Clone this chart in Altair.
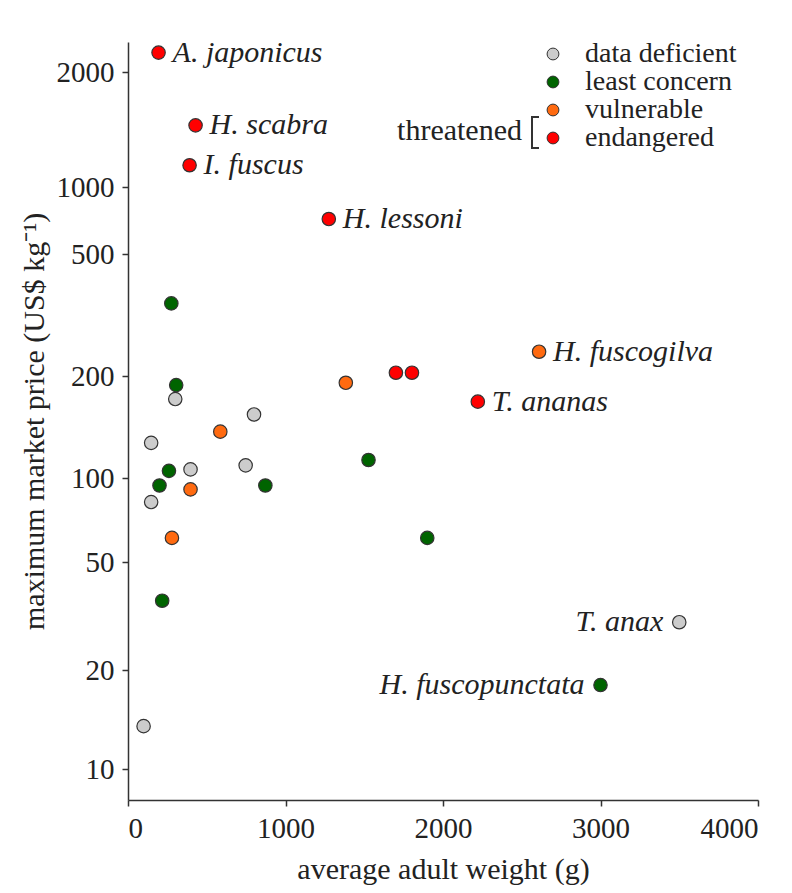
import altair as alt
import pandas as pd

# ---- data ----
weight = [194, 429, 391, 1275, 1701, 1803, 2221,            # endangered
          2610, 1383, 586, 397, 279,                        # vulnerable
          275, 306, 260, 200, 872, 1527, 1900, 217, 3000,   # least concern
          300, 800, 147, 397, 747, 147, 99, 3500]           # data deficient
price = [2250, 1450, 1140, 718, 205, 205, 168,
         240, 191, 137, 91, 61,
         345, 188, 105, 94, 94, 113, 61, 36, 18,
         171, 154, 127, 106, 109, 82, 13.5, 30]
status = (["endangered"] * 7 + ["vulnerable"] * 5 +
          ["least concern"] * 9 + ["data deficient"] * 8)
species = ["A. japonicus", "H. scabra", "I. fuscus", "H. lessoni", "", "", "T. ananas",
           "H. fuscogilva", "", "", "", "",
           "", "", "", "", "", "", "", "", "H. fuscopunctata",
           "", "", "", "", "", "", "", "T. anax"]

status_order = ["data deficient", "least concern", "vulnerable", "endangered"]
status_colors = ["#cccccc", "#006400", "#ff6a10", "#ff0000"]
x_ticks = [0, 1000, 2000, 3000, 4000]
y_ticks = [10, 20, 50, 100, 200, 500, 1000, 2000]

df = pd.DataFrame({"weight": weight, "price": price,
                   "status": status, "species": species})

FONT = "Liberation Serif"
W, H = 630, 758

x_enc = alt.X("weight:Q",
              scale=alt.Scale(domain=[0, 4000], nice=False),
              axis=alt.Axis(values=x_ticks, format="d",
                            title="average adult weight (g)",
                            labelPadding=8, titleY=78,
                            titleBaseline="alphabetic"))
y_enc = alt.Y("price:Q",
              scale=alt.Scale(type="log", nice=False,
                              domain=[8, 10, 20, 50, 100, 200, 500, 1000, 2000, 2400],
                              range=[758, 727, 628, 520, 436, 334, 212, 145, 30, 0]),
              axis=alt.Axis(values=y_ticks, format="d",
                            title="maximum market price (US$ kg\u207b\u00b9)",
                            labelPadding=8, titleX=-94, titleY=379,
                            titleAngle=270, titleAlign="center",
                            titleBaseline="middle"))

base = alt.Chart(df)

points = base.mark_point(filled=True, size=180, opacity=1,
                         stroke="#333333", strokeWidth=1.2).encode(
    x=x_enc, y=y_enc,
    color=alt.Color("status:N",
                    scale=alt.Scale(domain=status_order, range=status_colors),
                    title=None,
                    legend=alt.Legend(orient="none", legendX=411, legendY=-2,
                                      labelFont=FONT, labelFontSize=28,
                                      labelColor="#222222", labelOffset=18,
                                      symbolType="circle", symbolSize=140,
                                      symbolStrokeColor="#333333",
                                      symbolStrokeWidth=1, rowPadding=0,
                                      padding=0)),
)

labels_right = base.mark_text(align="left", baseline="middle", dx=14,
                              font=FONT, fontSize=30, fontStyle="italic",
                              color="#222222").encode(
    x="weight:Q", y="price:Q", text="species:N"
).transform_filter("datum.species != '' && datum.weight < 2900")

labels_left = base.mark_text(align="right", baseline="middle", dx=-16,
                             font=FONT, fontSize=30, fontStyle="italic",
                             color="#222222").encode(
    x="weight:Q", y="price:Q", text="species:N"
).transform_filter("datum.species != '' && datum.weight >= 2900")

ann = alt.Chart(alt.Data(values=[{"t": "threatened"}]))
threat_text = ann.mark_text(align="right", baseline="middle", font=FONT,
                            fontSize=30, color="#222222").encode(
    x=alt.value(394), y=alt.value(89), text="t:N")
br_v = ann.mark_rule(color="#333333", strokeWidth=2).encode(
    x=alt.value(404), y=alt.value(75), y2=alt.value(106))
br_t = ann.mark_rule(color="#333333", strokeWidth=2).encode(
    x=alt.value(403), x2=alt.value(411), y=alt.value(75))
br_b = ann.mark_rule(color="#333333", strokeWidth=2).encode(
    x=alt.value(403), x2=alt.value(411), y=alt.value(106))

chart = alt.layer(points, labels_right, labels_left,
                  threat_text, br_v, br_t, br_b).properties(
    width=W, height=H,
    autosize=alt.AutoSizeParams(type="none"),
    padding={"left": 120, "top": 34, "right": 26, "bottom": 85},
).configure_view(strokeWidth=0).configure_axis(
    grid=False, domainColor="#333333", domainWidth=1.5,
    tickColor="#333333", tickWidth=1.5, tickSize=6,
    labelFont=FONT, labelFontSize=29, labelColor="#222222",
    titleFont=FONT, titleFontSize=30, titleFontWeight="normal",
    titleColor="#222222",
)

chart.save("out.html", embed_options={"renderer": "svg", "actions": False})
